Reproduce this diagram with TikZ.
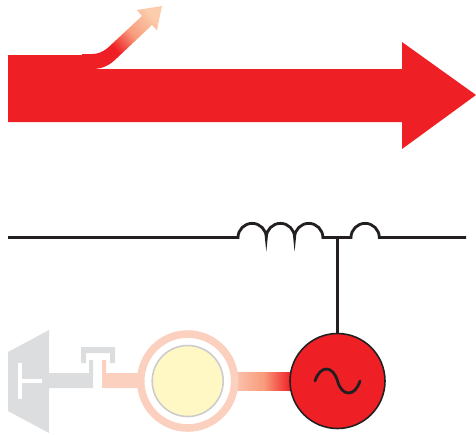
\documentclass[tikz,border=0pt]{standalone}
\usepackage{tikz}
\usetikzlibrary{positioning}
\definecolor{powerred}{HTML}{EF1F26}
\definecolor{peach}{HTML}{FCD0BE}
\definecolor{tipcolor}{HTML}{FBCDAD}
\definecolor{midcolor}{HTML}{F89C7C}
\definecolor{lossgray}{HTML}{DCDDDE}
\definecolor{corefill}{HTML}{FFF8C4}
\definecolor{wireblack}{HTML}{231F20}
\pgfdeclarehorizontalshading{lossfade}{100bp}{color(0bp)=(powerred); color(41bp)=(powerred); color(57bp)=(midcolor); color(76bp)=(tipcolor); color(100bp)=(tipcolor)}
\pgfdeclarehorizontalshading{shaftfade}{100bp}{color(0bp)=(peach); color(15bp)=(peach); color(50bp)=(midcolor); color(75bp)=(powerred); color(100bp)=(powerred)}
\tikzset{
  flow/.style={fill=powerred, draw=none},
  wire/.style={draw=wireblack, line width=1.6pt},
  gray part/.style={fill=lossgray, draw=none},
  peach part/.style={fill=peach, draw=none},
  genbox/.style={circle, draw=wireblack, fill=powerred, line width=0.9pt,
                 minimum size=1.9cm, inner sep=0pt},
  ringbox/.style={circle, draw=peach, line width=4.3pt, fill=white,
                  minimum size=1.88cm, inner sep=0pt},
  corebox/.style={circle, draw=black!20, fill=corefill, line width=0.9pt,
                  minimum size=1.42cm, inner sep=0pt},
}
\begin{document}
\begin{tikzpicture}[x=0.02cm, y=-0.02cm]
\useasboundingbox (0,0) rectangle (476,434);

\path[flow] (8,55) -- (82,55) -- (82,69) -- (402,69) -- (402,42) -- (476,95)
  -- (402,149) -- (402,122) -- (8,122) -- cycle;
\path[shading=lossfade, shading angle=40] (82,54) -- (92,54) .. controls (101,54) and (107,49) .. (113,43)
  -- (142,16) -- (137,10) -- (162,6) -- (157,30) -- (152,25) -- (117,58)
  .. controls (110,65) and (103,69) .. (92,69) -- (82,69) -- cycle;

\coordinate (linestart) at (8,237.5);
\coordinate (lineend) at (466,237.5);
\coordinate (coila) at (238,237.5);
\coordinate (coilb) at (351,237.5);
\coordinate (tap) at (337.5,237.5);

\path[shading=shaftfade] (236,372) rectangle (291,390);
\node[genbox] (gen) at (337.5,381) {};
\draw[wire] (linestart) -- (coila)
  arc[start angle=180, end angle=0, radius=0.283cm]
  arc[start angle=180, end angle=0, radius=0.283cm]
  arc[start angle=180, end angle=0, radius=0.283cm]
  -- (coilb)
  arc[start angle=180, end angle=0, radius=0.283cm]
  -- (lineend);
\draw[wire] (tap) -- (gen.north);

\path[gray part] (8,352) -- (49,330) -- (49,433) -- (8,411) -- cycle;
\path[fill=white] (18,363) rectangle (22,399);
\path[fill=white] (22,379) rectangle (42,383);
\path[gray part] (49,373) -- (89,373) -- (89,360) -- (93,360) -- (93,388) -- (49,388) -- cycle;
\path[gray part] (81,363) -- (81,347) -- (115,347) -- (115,363) -- (110,363) -- (110,353)
  -- (86,353) -- (86,363) -- cycle;
\path[peach part] (102,360) -- (106,360) -- (106,373) -- (140,373) -- (140,388) -- (102,388) -- cycle;

\node[ringbox] (ring) at (187.7,381) {};
\node[corebox] (core) at (187.7,381) {};

\draw[wire, line cap=round] (315,381) .. controls (320,365) and (333,365) .. (337.5,381)
  .. controls (342,397) and (355,397) .. (360,381);
\end{tikzpicture}
\end{document}
